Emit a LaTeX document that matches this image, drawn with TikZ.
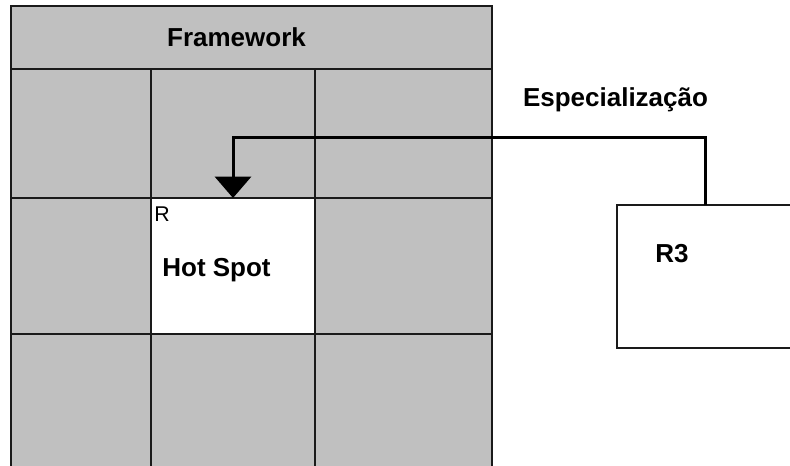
\documentclass[tikz,border=0pt]{standalone}
\usepackage{fontspec}
\setmainfont{Liberation Sans}
\usetikzlibrary{arrows.meta}
\definecolor{cellgray}{HTML}{C0C0C0}
\definecolor{edge}{HTML}{1A1A1A}
\begin{document}
\begin{tikzpicture}[x=0.75pt,y=-0.75pt,
  cell/.style={draw=edge,line width=1.2pt,fill=cellgray,rectangle,
    inner sep=0pt,outer sep=0pt},
  hot/.style={cell,fill=white},
  plainbox/.style={draw=edge,line width=1.2pt,fill=white,rectangle,
    inner sep=0pt,outer sep=0pt},
  lbl/.style={font=\fontsize{19.5pt}{22pt}\selectfont\bfseries,inner sep=0pt},
  small/.style={font=\fontsize{16pt}{18pt}\selectfont,inner sep=0pt},
  conn/.style={draw=black,line width=2.25pt,
    -{Triangle[width=27pt,length=16pt]}}]
\useasboundingbox (0,0) rectangle (790,465);
\fill[white] (0,0) rectangle (790,465);

% framework header
\node[cell,minimum width=360.75pt,minimum height=47.25pt] (header) at (251.5,37.5) {};
\node[lbl] (fwlabel) at (236.5,37) {Framework};

% first row
\node[cell,minimum width=105pt,minimum height=96.75pt] (c11) at (81,133.5) {};
\node[cell,minimum width=123pt,minimum height=96.75pt] (c12) at (233,133.5) {};
\node[cell,minimum width=132.75pt,minimum height=96.75pt] (c13) at (403.5,133.5) {};
% second row with the hot spot
\node[cell,minimum width=105pt,minimum height=102pt] (c21) at (81,266) {};
\node[hot,minimum width=123pt,minimum height=102pt] (hotspot) at (233,266) {};
\node[cell,minimum width=132.75pt,minimum height=102pt] (c23) at (403.5,266) {};
% third row, running past the lower edge
\node[cell,minimum width=105pt,minimum height=102pt] (c31) at (81,402) {};
\node[cell,minimum width=123pt,minimum height=102pt] (c32) at (233,402) {};
\node[cell,minimum width=132.75pt,minimum height=102pt] (c33) at (403.5,402) {};

\node[small,anchor=west] (rlabel) at (154,214) {R};
\node[lbl] (hslabel) at (216.5,270) {Hot Spot};

% specialised class box
\node[plainbox,minimum width=137.25pt,minimum height=107.25pt] (r3box) at (708.5,276.5) {};
\node[lbl] (r3label) at (672,254) {R3};
\coordinate (r3top) at (705,205);

\node[lbl] (speclabel) at (615.5,100) {Especialização};

% specialisation connector
\draw[conn] (r3top) -- (r3top |- 0,137) -| (hotspot.north);
\end{tikzpicture}
\end{document}
